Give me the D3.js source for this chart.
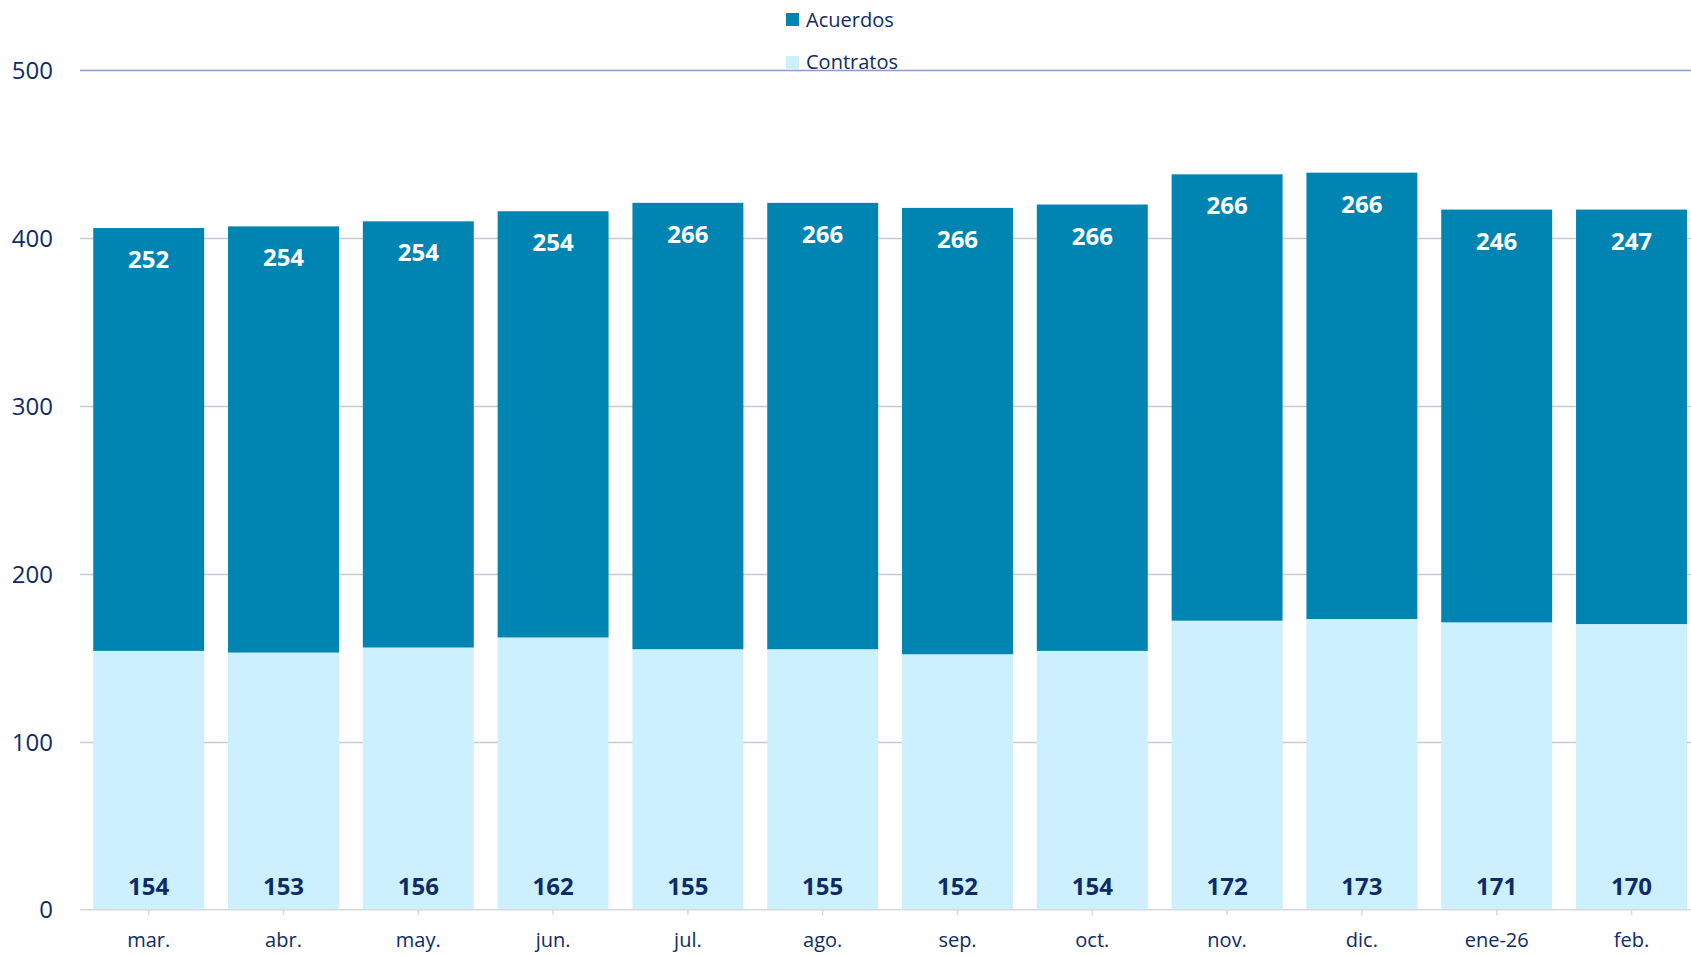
<!DOCTYPE html>
<html><head><meta charset="utf-8">
<script src="https://cdn.jsdelivr.net/npm/d3@7"></script>
<style>
html,body{margin:0;padding:0;background:#fff;}
svg{display:block;font-family:"Open Sans","Noto Sans",sans-serif;}
</style></head>
<body><svg id="c" width="1691" height="956"></svg>
<script>
const categories = ["mar.","abr.","may.","jun.","jul.","ago.","sep.","oct.","nov.","dic.","ene-26","feb."];
const contratos = [154,153,156,162,155,155,152,154,172,173,171,170];
const acuerdos  = [252,254,254,254,266,266,266,266,266,266,246,247];
const yTicks = [0,100,200,300,400,500];
const seriesNames = ["Acuerdos","Contratos"];

const colA = "#0085B2", colC = "#CCF0FD", navy = "#0F2B66";
const svg = d3.select("#c");

const x = d3.scaleBand().domain(categories).range([81.3, 1698.9]).paddingInner(0.177).paddingOuter(0.0885);
const y = d3.scaleLinear().domain([0,500]).range([909.3, 70.3]);

// gridlines
svg.append("g").selectAll("line").data(yTicks.filter(d=>d>0)).join("line")
  .attr("x1",80).attr("x2",1691)
  .attr("y1",d=>Math.round(y(d))+0.5).attr("y2",d=>Math.round(y(d))+0.5)
  .attr("stroke",d=>d===500?"#8A9BC6":"#C3C9D9").attr("stroke-width",1.3);

// y labels
svg.append("g").selectAll("text").data(yTicks).join("text")
  .attr("x",53).attr("y",d=>y(d)+9).attr("text-anchor","end")
  .attr("font-size",24).attr("fill",navy).text(d=>d);

// bars
const g = svg.append("g");
g.selectAll("rect.c").data(categories).join("rect").attr("class","c")
  .attr("x",d=>x(d)).attr("width",x.bandwidth())
  .attr("y",(d,i)=>y(contratos[i])).attr("height",(d,i)=>y(0)-y(contratos[i]))
  .attr("fill",colC);
g.selectAll("rect.a").data(categories).join("rect").attr("class","a")
  .attr("x",d=>x(d)).attr("width",x.bandwidth())
  .attr("y",(d,i)=>y(contratos[i]+acuerdos[i])).attr("height",(d,i)=>y(contratos[i])-y(contratos[i]+acuerdos[i]))
  .attr("fill",colA);

// x axis
const xAxis = d3.axisBottom(x).tickSize(6).tickSizeOuter(0).tickPadding(18);
const ax = svg.append("g").attr("transform",`translate(0,${y(0)})`).call(xAxis);
ax.select(".domain").attr("stroke","#D9D9D9").attr("stroke-width",1.5).attr("d","M80,0.5H1691");
ax.selectAll(".tick line").attr("stroke","#D9D9D9").attr("stroke-width",1.5);
ax.selectAll(".tick text").attr("font-size",20).attr("fill",navy).attr("font-family","'Open Sans','Noto Sans',sans-serif");

// labels
svg.append("g").selectAll("text").data(categories).join("text")
  .attr("x",d=>x(d)+x.bandwidth()/2).attr("y",(d,i)=>y(contratos[i]+acuerdos[i])+40)
  .attr("text-anchor","middle").attr("font-size",24).attr("font-weight","bold").attr("fill","#fff")
  .text((d,i)=>acuerdos[i]);
svg.append("g").selectAll("text").data(categories).join("text")
  .attr("x",d=>x(d)+x.bandwidth()/2).attr("y",y(0)-14)
  .attr("text-anchor","middle").attr("font-size",24).attr("font-weight","bold").attr("fill",navy)
  .text((d,i)=>contratos[i]);

// legend
const leg = svg.append("g");
const lc = [colA,colC];
seriesNames.forEach((n,i)=>{
  leg.append("rect").attr("x",786).attr("y",13+i*43).attr("width",13).attr("height",13).attr("fill",lc[i]);
  leg.append("text").attr("x",806).attr("y",27+i*42).attr("font-size",20).attr("fill",navy).text(n);
});
</script></body></html>
